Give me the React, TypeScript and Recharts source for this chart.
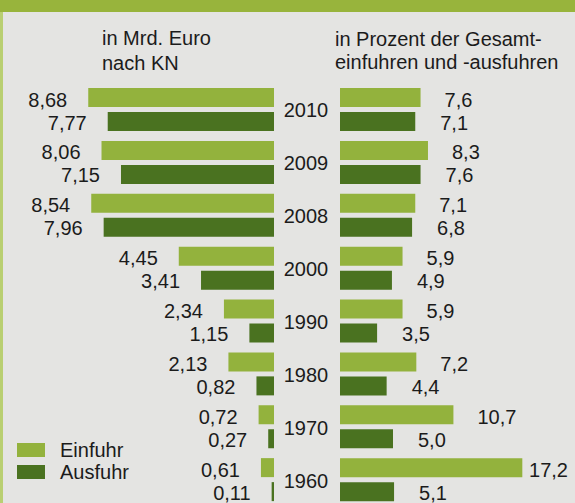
import React from 'react';
import { BarChart, Bar, XAxis, YAxis, LabelList, Legend } from 'recharts';

const years = ['2010', '2009', '2008', '2000', '1990', '1980', '1970', '1960'];
const einfuhrMrd = [8.68, 8.06, 8.54, 4.45, 2.34, 2.13, 0.72, 0.61];
const ausfuhrMrd = [7.77, 7.15, 7.96, 3.41, 1.15, 0.82, 0.27, 0.11];
const einfuhrPct = [7.6, 8.3, 7.1, 5.9, 5.9, 7.2, 10.7, 17.2];
const ausfuhrPct = [7.1, 7.6, 6.8, 4.9, 3.5, 4.4, 5.0, 5.1];
const seriesNames = ['Einfuhr', 'Ausfuhr'];
const headerLeft = ['in Mrd. Euro', 'nach KN'];
const headerRight = ['in Prozent der Gesamt-', 'einfuhren und -ausfuhren'];

const COLORS = ['#93b23d', '#4a7220'];
const FONT = 'Liberation Sans, Arial, Helvetica, sans-serif';
const TEXT = '#1b1b1b';
const BG = '#e4e4e2';

const leftData = years.map((y, i) => ({ year: y, einfuhr: einfuhrMrd[i], ausfuhr: ausfuhrMrd[i] }));
const rightData = years.map((y, i) => ({ year: y, einfuhr: einfuhrPct[i], ausfuhr: ausfuhrPct[i] }));

const fmt = (v: number, d: number) => Number(v).toFixed(d).replace('.', ',');

const makeLeftLabel = (dy: number) => (props: any) => {
  const vb = props.viewBox || props;
  const x = Number(vb.x);
  const w = Number(vb.width);
  const y = Number(vb.y);
  const h = Number(vb.height);
  const left = Math.min(x, x + w);
  return (
    <text x={left - 21} y={y + h / 2 + 7 + dy} textAnchor="end" fontSize={20} fontFamily={FONT} fill={TEXT}>
      {fmt(props.value, 2)}
    </text>
  );
};

const makeRightLabel = (offset: number, dy: number, limit: number) => (props: any) => {
  const vb = props.viewBox || props;
  const x = Number(vb.x);
  const w = Number(vb.width);
  const y = Number(vb.y);
  const h = Number(vb.height);
  const right = Math.max(x, x + w);
  const s = fmt(props.value, 1);
  const estW = s.length * 10.5;
  let tx = right + offset;
  let anchor: 'start' | 'end' = 'start';
  if (tx + estW > limit) {
    tx = limit;
    anchor = 'end';
  }
  return (
    <text x={tx} y={y + h / 2 + 7 + dy} textAnchor={anchor} fontSize={20} fontFamily={FONT} fill={TEXT}>
      {s}
    </text>
  );
};

const YearTick = (props: any) => {
  const { x, y, payload } = props;
  return (
    <text x={x} y={Number(y) + 8} textAnchor="middle" fontSize={20} fontFamily={FONT} fill={TEXT}>
      {payload.value}
    </text>
  );
};

const renderLegend = () => (
  <div style={{ fontFamily: FONT, fontSize: 20, color: TEXT }}>
    {seriesNames.map((n, i) => (
      <div key={n} style={{ display: 'flex', alignItems: 'center', height: 22, lineHeight: '22px' }}>
        <span style={{ display: 'inline-block', width: 28, height: 14, background: COLORS[i], marginRight: 15 }} />
        <span>{n}</span>
      </div>
    ))}
  </div>
);

export default function App() {
  return (
    <div
      style={{
        position: 'absolute',
        left: 0,
        top: 0,
        width: 575,
        height: 503,
        background: BG,
        overflow: 'hidden',
        fontFamily: FONT,
      }}
    >
      <div style={{ position: 'absolute', left: 0, top: 0, width: 575, height: 12, background: '#98b43c' }} />
      <div style={{ position: 'absolute', left: 0, top: 12, width: 3, height: 491, background: '#b9cf72' }} />
      <svg style={{ position: 'absolute', left: 0, top: 0 }} width={575} height={80}>
        <text x={102} y={45} fontSize={20} fontFamily={FONT} fill={TEXT}>{headerLeft[0]}</text>
        <text x={102} y={70} fontSize={20} fontFamily={FONT} fill={TEXT}>{headerLeft[1]}</text>
        <text x={335} y={46} fontSize={20} fontFamily={FONT} fill={TEXT}>{headerRight[0]}</text>
        <text x={335} y={69} fontSize={20} fontFamily={FONT} fill={TEXT}>{headerRight[1]}</text>
      </svg>
      <div style={{ position: 'absolute', left: 0, top: 0 }}>
        <BarChart
          layout="vertical"
          width={280}
          height={520}
          data={leftData}
          margin={{ top: 83, bottom: 14, left: 60, right: 6 }}
          barSize={19}
          barGap={5}
        >
          <XAxis type="number" domain={[0, 10]} reversed hide />
          <YAxis type="category" dataKey="year" hide />
          <Legend
            layout="vertical"
            align="center"
            verticalAlign="middle"
            content={renderLegend}
            wrapperStyle={{ left: 17, top: 439, width: 140, height: 44 }}
          />
          <Bar dataKey="einfuhr" name={seriesNames[0]} fill={COLORS[0]} isAnimationActive={false}>
            <LabelList dataKey="einfuhr" content={makeLeftLabel(2)} />
          </Bar>
          <Bar dataKey="ausfuhr" name={seriesNames[1]} fill={COLORS[1]} isAnimationActive={false}>
            <LabelList dataKey="ausfuhr" content={makeLeftLabel(1)} />
          </Bar>
        </BarChart>
      </div>
      <div style={{ position: 'absolute', left: 270, top: 0 }}>
        <BarChart
          layout="vertical"
          width={305}
          height={520}
          data={rightData}
          margin={{ top: 83, bottom: 14, left: 0, right: 23 }}
          barSize={19}
          barGap={5}
        >
          <XAxis type="number" domain={[0, 20]} hide />
          <YAxis
            type="category"
            dataKey="year"
            width={70}
            tickLine={false}
            axisLine={false}
            tickSize={0}
            tickMargin={34}
            tick={YearTick}
          />
          <Bar dataKey="einfuhr" name={seriesNames[0]} fill={COLORS[0]} isAnimationActive={false}>
            <LabelList dataKey="einfuhr" content={makeRightLabel(24, 2, 298)} />
          </Bar>
          <Bar dataKey="ausfuhr" name={seriesNames[1]} fill={COLORS[1]} isAnimationActive={false}>
            <LabelList dataKey="ausfuhr" content={makeRightLabel(25, 1, 298)} />
          </Bar>
        </BarChart>
      </div>
    </div>
  );
}
